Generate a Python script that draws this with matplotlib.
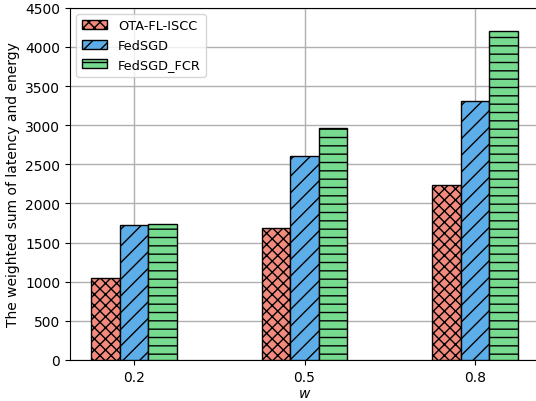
import numpy as np
import matplotlib
matplotlib.use("Agg")
import matplotlib.pyplot as plt

w_values = ["0.2", "0.5", "0.8"]
ota_fl_iscc = [1050, 1690, 2240]
fedsgd = [1730, 2610, 3310]
fedsgd_fcr = [1740, 2970, 4200]

series = [
    ("OTA-FL-ISCC", ota_fl_iscc, "#F28B7D", "xxx"),
    ("FedSGD", fedsgd, "#5DADE8", "//"),
    ("FedSGD_FCR", fedsgd_fcr, "#77DB8F", "--"),
]

fig = plt.figure(figsize=(5.36, 4.02), dpi=100)
ax = fig.add_axes([0.1306, 0.102, 0.875, 0.876])

x = np.arange(len(w_values))
width = 0.5 / 3
for i, (label, vals, color, hatch) in enumerate(series):
    ax.bar(x + (i - 1) * width, vals, width, label=label, color=color,
           edgecolor="black", hatch=hatch, linewidth=1.0, zorder=3)

ax.set_xticks(x)
ax.set_xticklabels(w_values)
ax.set_ylim(0, 4500)
ax.set_yticks(np.arange(0, 4501, 500))
ax.grid(True, color="#b0b0b0", linewidth=1.0, zorder=0)
ax.set_axisbelow(True)
ax.set_xlabel("$w$", labelpad=2)
ax.set_ylabel("The weighted sum of latency and energy")
ax.legend(loc="upper left", fontsize=9.3)

fig.savefig("out.png", dpi=100)
